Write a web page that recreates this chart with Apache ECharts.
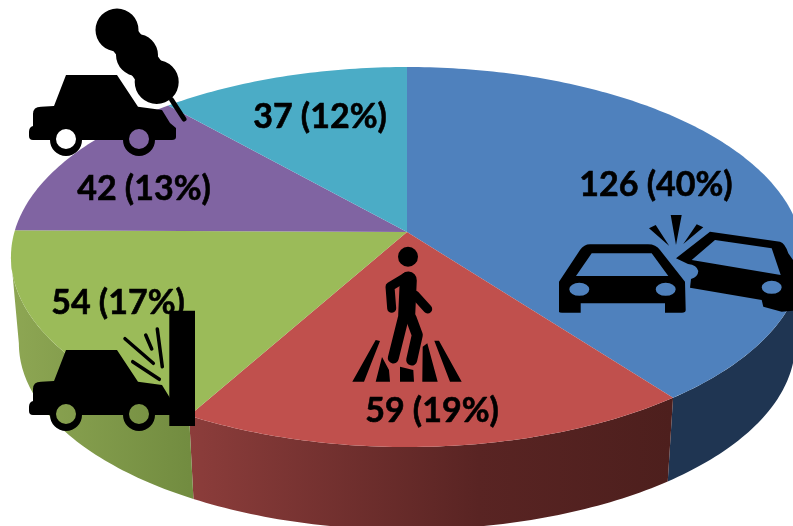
<!DOCTYPE html>
<html>
<head>
<meta charset="utf-8">
<style>
  html, body { margin: 0; padding: 0; background: #fff; }
  #chart { width: 793px; height: 526px; }
</style>
<script src="https://cdn.jsdelivr.net/npm/echarts@6/dist/echarts.min.js"></script>
</head>
<body>
<div id="chart"></div>
<script>
// data
const names = ['Collision', 'Pedestrian', 'Fixed object', 'Fire', 'Other']
const values = [126, 59, 54, 42, 37]
const percents = [40, 19, 17, 13, 12]

// look of each slice
const topColors = ['#4f81bd', '#c0504d', '#9bbb59', '#8064a2', '#4bacc6']
const wallColors = [
  '#1f3552',
  { type: 'linear', x: 190, y: 0, x2: 672, y2: 0, global: true, colorStops: [
    { offset: 0, color: '#8c3d3b' }, { offset: 0.6, color: '#592423' }, { offset: 1, color: '#4d1f1d' }
  ] },
  { type: 'linear', x: 15, y: 0, x2: 190, y2: 0, global: true, colorStops: [
    { offset: 0, color: '#8da653' }, { offset: 1, color: '#728c40' }
  ] }
]
const labelPos = [[656, 185], [432, 411], [118, 303], [144, 189], [320, 117]]

// perspective projection of the pie disc
const cx = 407, apexY = 232, radiusX = 392.6, radiusY = 186.7, tilt = 0.1316
const wallDrop = 87, wallScale = 0.98
const total = values.reduce((a, b) => a + b, 0)
// the outer wall only faces the viewer between these two angles
const frontStart = Math.acos(-tilt), frontEnd = Math.PI * 2 - frontStart

function project(angle, bottom) {
  const u = Math.sin(angle), v = -Math.cos(angle), d = 1 - tilt * v
  const s = bottom ? wallScale : 1
  return [cx + radiusX * u / d * s, apexY + (bottom ? wallDrop : 0) + radiusY * v / d * s]
}

function arc(start, end, bottom) {
  const pts = []
  const n = Math.max(2, Math.ceil((end - start) * 60))
  for (let i = 0; i <= n; i++) pts.push(project(start + (end - start) * i / n, bottom))
  return pts
}

function sliceAngles(i) {
  let before = 0
  for (let j = 0; j < i; j++) before += values[j]
  return [before / total * Math.PI * 2, (before + values[i]) / total * Math.PI * 2]
}

function renderWall(params, api) {
  const i = api.value(0)
  const [s0, s1] = sliceAngles(i)
  const a0 = Math.max(s0, frontStart), a1 = Math.min(s1, frontEnd)
  if (a1 <= a0) return null
  return {
    type: 'polygon',
    shape: { points: arc(a0, a1, false).concat(arc(a0, a1, true).reverse()) },
    style: { fill: wallColors[i] }
  }
}

function renderTop(params, api) {
  const i = api.value(0)
  const [a0, a1] = sliceAngles(i)
  return {
    type: 'group',
    children: [
      {
        type: 'polygon',
        shape: { points: [[cx, apexY]].concat(arc(a0, a1, false)) },
        style: { fill: topColors[i] }
      },
      {
        type: 'text',
        z2: 5,
        x: labelPos[i][0],
        y: labelPos[i][1],
        style: {
          text: api.value(1) + ' (' + percents[i] + '%)',
          fill: '#000',
          stroke: '#000',
          lineWidth: 0.6,
          font: 'bold 34px Lato, "Noto Sans", sans-serif',
          textAlign: 'center',
          textVerticalAlign: 'middle'
        }
      }
    ]
  }
}

// icon helpers, holes run the other way round
function disc(x, y, r) {
  return `M${x - r} ${y}A${r} ${r} 0 1 1 ${x + r} ${y}A${r} ${r} 0 1 1 ${x - r} ${y}Z`
}
function hole(x, y, rx, ry) {
  return `M${x - rx} ${y}A${rx} ${ry} 0 1 0 ${x + rx} ${y}A${rx} ${ry} 0 1 0 ${x - rx} ${y}Z`
}

const sideCar = 'M29 132Q29 127 33 126L33 114Q33 106.7 41 106.7L54 106L66 75L117 75L138 106.7L162 110L170 123L176 128L176 137Q176 140 172 140' +
  'L155 140A16 16 0 0 1 123 140L82 140A16 16 0 0 1 50 140L33 140Q29 140 29 136Z' +
  hole(66, 139, 10, 10) + hole(139, 139, 10, 10)
const smoke = disc(117, 30, 21.5) + disc(137, 55, 21) + disc(156.7, 82, 22)
const frontCar = 'M559 311.7L559 281.7L580 250Q584 244.3 590 244.3L648 244.3Q656 244.3 660 250L685 281.7L685.7 310Q685.7 312.7 682 312.7L665 312.7L665 303.3L580.7 303.3L580.7 312.7L562 312.7Q559 312.7 559 311.7Z' +
  'M576 276L668.3 276L651.7 253.3L591.7 253.3Z' + hole(579.3, 289.3, 10, 6.5) + hole(665.7, 289.3, 10, 6.5)
const tiltedCar = 'M676 258.3L710 231.7L780 241.7Q785 243 788.3 253.3L800 270L800 310L781.7 311.7L763.3 306.7L761.7 300L690 287.7L691 279Q698 277 698.3 271Q697 265 688 264Z' +
  'M691.7 260L780.7 275L771.7 248.3L715 240Z' + hole(771.7, 287.3, 10, 6.5)
const sparks = 'M670.7 215L681.7 215L676 245ZM649 228.3L655.7 225L669.3 246ZM696.7 224.3L703.3 227.3L683.3 244Z'
const crossing = 'M375.7 340L380 341L364 381.7L352.3 381.7Z' +
  'M382 357L375.7 381.7L390 381.7L389 370Z' +
  'M400 366.7L400 381.7L414 381.7L413.3 370Z' +
  'M422.7 346.7L422.3 381.7L437.7 381.7L427.3 343.3Z' +
  'M434.3 340.7L439 340.7L461.7 381.7L450 381.7Z'

function icon(pathData, y) {
  return { type: 'path', y: y || 0, shape: { pathData }, style: { fill: '#000' } }
}
function strokeIcon(pathData, width) {
  return {
    type: 'path', shape: { pathData },
    style: { fill: 'none', stroke: '#000', lineWidth: width, lineCap: 'round', lineJoin: 'round' }
  }
}

function renderIcons() {
  return {
    type: 'group',
    children: [
      // fire
      icon(sideCar),
      icon(smoke),
      strokeIcon('M117 30L137 55L156.7 82', 32),
      strokeIcon('M171.7 100L184 119', 5),
      // hit a wall
      icon(sideCar, 275),
      icon('M169.3 310.7L195 310.7L195 426L169.3 426Z'),
      strokeIcon('M125 338.7L153.3 363.3M132.7 361.7L159.3 379.3M145.7 335L151.7 349M157.3 329L162.3 366.7', 3.5),
      // two cars
      icon(frontCar),
      icon(tiltedCar),
      icon(sparks),
      // pedestrian
      icon(disc(408, 256.7, 10)),
      icon(crossing),
      strokeIcon('M408.3 280L406.7 315', 17),
      strokeIcon('M406.7 276.7L390 286.7L391.7 308.3', 9),
      strokeIcon('M415 295L427.7 309', 9),
      strokeIcon('M403.3 318L393.3 358', 11),
      strokeIcon('M411 318L417.3 335L411.7 360', 11)
    ]
  }
}

const chart = echarts.init(document.getElementById('chart'), null, { renderer: 'canvas' })
const rows = values.map((v, i) => [i, v, names[i]])

chart.setOption({
  animation: false,
  backgroundColor: '#fff',
  series: [
    { type: 'custom', coordinateSystem: 'none', silent: true, z: 2, renderItem: renderWall, data: rows },
    { type: 'custom', coordinateSystem: 'none', silent: true, z: 3, renderItem: renderTop, data: rows },
    { type: 'custom', coordinateSystem: 'none', silent: true, z: 4, renderItem: renderIcons, data: [[0]] }
  ]
})
</script>
</body>
</html>
